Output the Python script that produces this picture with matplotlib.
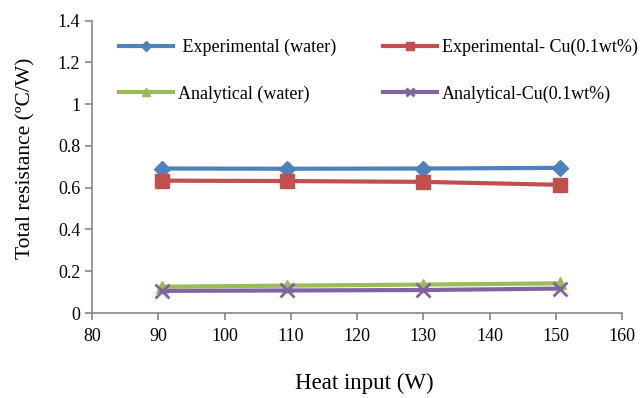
import matplotlib
matplotlib.use('Agg')
import matplotlib.pyplot as plt

# data
heat_input = [90.5, 109.5, 130.0, 150.6]
exp_water = [0.692, 0.691, 0.692, 0.695]
exp_cu = [0.634, 0.632, 0.628, 0.614]
ana_water = [0.126, 0.131, 0.136, 0.142]
ana_cu = [0.106, 0.108, 0.110, 0.117]

labels = [' Experimental (water)', 'Experimental- Cu(0.1wt%)',
          'Analytical (water)', 'Analytical-Cu(0.1wt%)']

plt.rcParams['font.family'] = ['Liberation Serif', 'DejaVu Serif']

fig = plt.figure(figsize=(6.44, 3.98), dpi=100)
ax = fig.add_axes([92 / 644, 1 - 313 / 398, 530 / 644, 292.3 / 398])

ax.plot(heat_input, exp_water, color='#4F81BD', lw=3, marker='D', ms=8, label=labels[0])
ax.plot(heat_input, exp_cu, color='#C0504D', lw=3, marker='s', ms=10, label=labels[1])
ax.plot(heat_input, ana_water, color='#9BBB59', lw=3, marker='^', ms=9, label=labels[2])
ax.plot(heat_input, ana_cu, color='#8064A2', lw=3, marker='x', ms=10, mew=2, label=labels[3])

ax.set_xlim(80, 160)
ax.set_ylim(0, 1.4)
ax.set_xticks(range(80, 161, 10))
ax.set_yticks([0, 0.2, 0.4, 0.6, 0.8, 1, 1.2, 1.4])
ax.set_yticklabels(['0', '0.2', '0.4', '0.6', '0.8', '1', '1.2', '1.4'])

for s in ['top', 'right']:
    ax.spines[s].set_visible(False)
for s in ['left', 'bottom']:
    ax.spines[s].set_color('#868686')
    ax.spines[s].set_linewidth(1.2)
ax.tick_params(colors='#868686', labelcolor='black', labelsize=13, length=5, width=1.2)
ax.tick_params(axis='x', pad=6)

ax.set_xlabel('Heat input (W)', fontsize=16.5, labelpad=20)
ax.xaxis.label.set_x(0.513)
ax.set_ylabel('Total resistance (ºC/W)', fontsize=15.5, labelpad=16)
ax.yaxis.label.set_y(0.53)

# legend order: row1 = exp water, exp cu; row2 = ana water, ana cu
h, l = ax.get_legend_handles_labels()
order = [0, 2, 1, 3]
fig.legend([h[i] for i in order], [l[i] for i in order], ncol=2, frameon=False,
           loc='upper left', bbox_to_anchor=(110 / 644, 1 - 30 / 398),
           fontsize=13, handlelength=3.0, handletextpad=0.25, labelspacing=1.6,
           columnspacing=2.6, markerscale=0.6, borderpad=0)

plt.savefig('out.png', dpi=100)
